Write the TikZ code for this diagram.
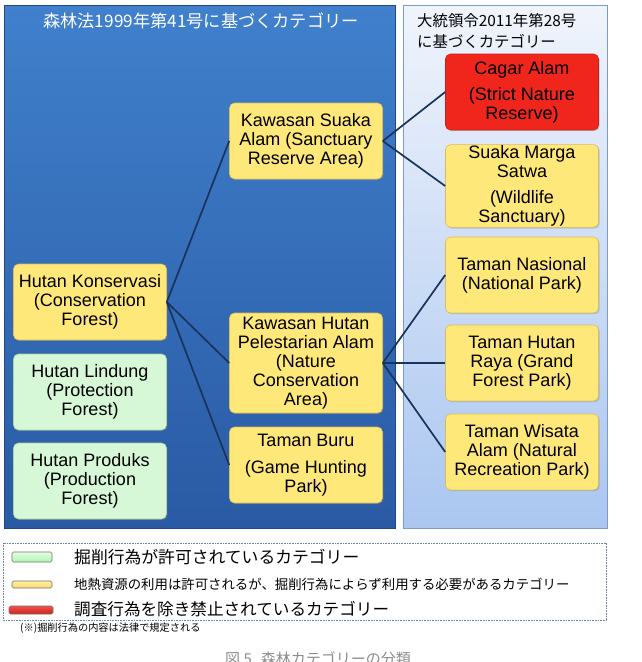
\documentclass[tikz,border=0pt]{standalone}
\usepackage{fontspec}
\setmainfont{Liberation Sans}
\newfontfamily\jp{Noto Sans CJK JP}
\usetikzlibrary{shadows}
\definecolor{nodeyellow}{RGB}{255,232,122}
\definecolor{nodeyellowline}{RGB}{215,190,90}
\definecolor{nodegreen}{RGB}{214,248,214}
\definecolor{nodegreenline}{RGB}{170,210,170}
\definecolor{nodered}{RGB}{240,38,28}
\definecolor{noderedline}{RGB}{200,30,25}
\definecolor{panelblueT}{RGB}{64,128,204}
\definecolor{panelblueB}{RGB}{42,90,164}
\definecolor{panellightT}{RGB}{240,244,252}
\definecolor{panellightB}{RGB}{170,198,240}
\definecolor{panelline}{RGB}{120,155,210}
\definecolor{conn}{RGB}{24,52,92}
\definecolor{captiongray}{RGB}{140,140,140}
\tikzset{
  catbox/.style={rounded corners=5pt, minimum width=153pt, minimum height=76pt,
    inner sep=1pt, align=center, line width=0.6pt,
    font=\fontsize{18}{19}\selectfont,
    drop shadow={opacity=0.35, shadow xshift=1.2pt, shadow yshift=-1.2pt}},
  ybox/.style={catbox, fill=nodeyellow, draw=nodeyellowline},
  gbox/.style={catbox, fill=nodegreen, draw=nodegreenline},
  rbox/.style={catbox, fill=nodered, draw=noderedline},
  link/.style={draw=conn, line width=1.7pt},
  swatch/.style={rounded corners=1.5pt, line width=0.6pt, draw=black!55}
}
\begin{document}
\begin{tikzpicture}[x=1pt,y=-1pt]
\useasboundingbox (0,0) rectangle (641,662);
\fill[white] (0,0) rectangle (641,662);
% panels
\fill[top color=panelblueT, bottom color=panelblueB] (4,5) rectangle (395,528);
\draw[panelblueB!80!black, line width=0.5pt] (4,5) rectangle (395,528);
\fill[top color=panellightT, bottom color=panellightB] (403,5) rectangle (607,528);
\draw[panelline, line width=0.7pt] (403,5) rectangle (607,528);
% titles
\node[text=white, font=\jp\fontsize{17.2}{20}\selectfont] (t1) at (201,21) {森林法1999年第41号に基づくカテゴリー};
\node[anchor=west, align=left, inner sep=0pt, font=\jp\fontsize{15.4}{21}\selectfont] (t2) at (417,31) {大統領令2011年第28号\\に基づくカテゴリー};
% column 1
\node[ybox] (hk) at (90,302) {Hutan Konservasi\\(Conservation\\Forest)};
\node[gbox] (hl) at (90,392) {Hutan Lindung\\(Protection\\Forest)};
\node[gbox] (hp) at (90,481) {Hutan Produks\\(Production\\Forest)};
% column 2
\node[ybox] (ksa) at (306,141) {Kawasan Suaka\\Alam (Sanctuary\\Reserve Area)};
\node[ybox, minimum height=100pt] (khpa) at (306,363) {Kawasan Hutan\\Pelestarian Alam\\(Nature\\Conservation\\Area)};
\node[ybox] (tb) at (306,465) {Taman Buru\\[8pt](Game Hunting\\Park)};
% column 3
\node[rbox] (ca) at (522,92) {Cagar Alam\\[7pt](Strict Nature\\Reserve)};
\node[ybox] (sms) at (522,186) {Suaka Marga\\Satwa\\[7pt](Wildlife\\Sanctuary)};
\node[ybox] (tn) at (522,275) {Taman Nasional\\(National Park)};
\node[ybox] (thr) at (522,363) {Taman Hutan\\Raya (Grand\\Forest Park)};
\node[ybox] (twa) at (522,452) {Taman Wisata\\Alam (Natural\\Recreation Park)};
% connectors
\draw[link] (hk.east) -- (ksa.west);
\draw[link] (hk.east) -- (khpa.west);
\draw[link] (hk.east) -- (tb.west);
\draw[link] (ksa.east) -- (ca.west);
\draw[link] (ksa.east) -- (sms.west);
\draw[link] (khpa.east) -- (tn.west);
\draw[link] (khpa.east) -- (thr.west);
\draw[link] (khpa.east) -- (twa.west);
% legend
\draw[draw={rgb,255:red,110;green,130;blue,165}, line width=0.6pt, dash pattern=on 0.8pt off 0.8pt] (3,543) rectangle (606,620);
\shade[swatch, top color=nodegreen!60!white, bottom color=nodegreen!80!green] (12,552) rectangle (52,562);
\shade[swatch, top color=nodeyellow!70!white, bottom color=nodeyellow!85!orange] (12,581) rectangle (52,588);
\shade[swatch, top color=nodered!80!white, bottom color=nodered!85!black] (9,606) rectangle (53,614);
\node[anchor=west, inner sep=0pt, font=\jp\fontsize{16.8}{18}\selectfont] (l1) at (74,557) {掘削行為が許可されているカテゴリー};
\node[anchor=west, inner sep=0pt, font=\jp\fontsize{13.4}{14}\selectfont] (l2) at (74,584) {地熱資源の利用は許可されるが、掘削行為によらず利用する必要があるカテゴリー};
\node[anchor=west, inner sep=0pt, font=\jp\fontsize{16.6}{18}\selectfont] (l3) at (74,609) {調査行為を除き禁止されているカテゴリー};
\node[anchor=west, inner sep=0pt, font=\jp\fontsize{10.2}{11}\selectfont] (fn) at (20,628) {(※)掘削行為の内容は法律で規定される};
\node[text=captiongray, inner sep=0pt, font=\jp\fontsize{15}{17}\selectfont] (cap) at (318,659) {図 5\hspace{0.6em}森林カテゴリーの分類};
\end{tikzpicture}
\end{document}
